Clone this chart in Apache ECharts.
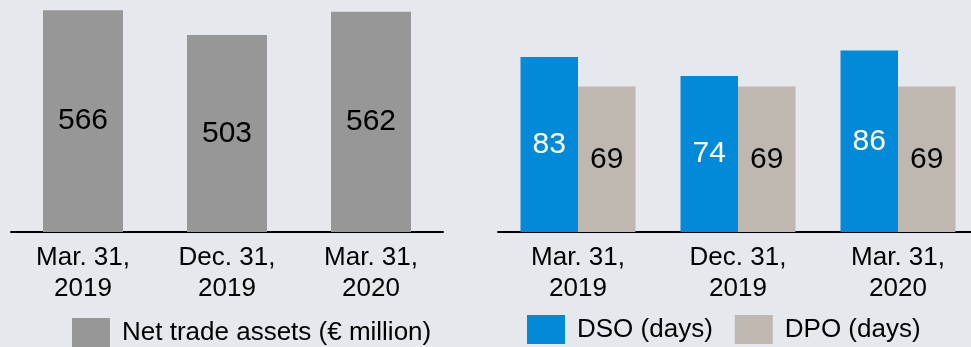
<!DOCTYPE html>
<html>
<head>
<meta charset="utf-8">
<script src="https://cdn.jsdelivr.net/npm/echarts@6/dist/echarts.min.js"></script>
<style>
  html, body { margin: 0; padding: 0; background: #e5e8ed; }
  #chart { width: 971px; height: 347px; }
</style>
</head>
<body>
<div id="chart"></div>
<script>
// Reporting dates shared by both panels
const categories = ['Mar. 31,\n2019', 'Dec. 31,\n2019', 'Mar. 31,\n2020'];

// Left panel: net trade assets in € million
const netTradeAssets = [566, 503, 562];

// Right panel: days sales outstanding / days payables outstanding
const dso = [83, 74, 86];
const dpo = [69, 69, 69];

const seriesNames = ['Net trade assets (€ million)', 'DSO (days)', 'DPO (days)'];

const FONT = '"Liberation Sans", Arial, Helvetica, sans-serif';
const colors = { nta: '#979797', dso: '#028ad9', dpo: '#bfb8b0' };

const axisCommon = {
  type: 'category',
  data: categories,
  axisLine: { show: true, lineStyle: { color: '#000', width: 2 } },
  axisTick: { show: false },
  axisLabel: {
    color: '#000', fontSize: 26, fontFamily: FONT, lineHeight: 31, margin: 10
  }
};

const valueLabel = (color) => ({
  show: true, position: 'inside', color: color,
  fontSize: 30, fontFamily: FONT
});

const legendText = { color: '#000', fontSize: 26, fontFamily: FONT, padding: [0, 0, 0, 7] };

const chart = echarts.init(document.getElementById('chart'), null, { renderer: 'canvas' });

chart.setOption({
  backgroundColor: '#e5e8ed',
  animation: false,
  textStyle: { fontFamily: FONT },
  grid: [
    { left: 11, width: 432, top: 0, bottom: 115, outerBoundsMode: 'none', containLabel: false },
    // the right panel's axis runs slightly past the canvas edge
    { left: 498, width: 480, top: 0, bottom: 115, outerBoundsMode: 'none', containLabel: false }
  ],
  xAxis: [
    Object.assign({ gridIndex: 0 }, axisCommon),
    Object.assign({ gridIndex: 1 }, axisCommon)
  ],
  yAxis: [
    { type: 'value', gridIndex: 0, min: 0, max: 592, show: false },
    { type: 'value', gridIndex: 1, min: 0, max: 110, show: false }
  ],
  legend: [
    {
      data: [seriesNames[0]],
      left: 72, top: 318, padding: 0,
      itemWidth: 38, itemHeight: 29, itemGap: 23,
      icon: 'rect',
      textStyle: legendText
    },
    {
      data: [seriesNames[1], seriesNames[2]],
      left: 527, top: 315, padding: 0,
      itemWidth: 38, itemHeight: 29, itemGap: 22,
      icon: 'rect',
      textStyle: legendText
    }
  ],
  series: [
    {
      name: seriesNames[0], type: 'bar',
      xAxisIndex: 0, yAxisIndex: 0,
      data: netTradeAssets, barWidth: 80,
      itemStyle: { color: colors.nta },
      label: valueLabel('#000')
    },
    {
      name: seriesNames[1], type: 'bar',
      xAxisIndex: 1, yAxisIndex: 1,
      data: dso, barWidth: 57.5, barGap: '0%',
      itemStyle: { color: colors.dso },
      label: valueLabel('#fff')
    },
    {
      name: seriesNames[2], type: 'bar',
      xAxisIndex: 1, yAxisIndex: 1,
      data: dpo, barWidth: 57.5, barGap: '0%',
      itemStyle: { color: colors.dpo },
      label: valueLabel('#000')
    }
  ]
});
</script>
</body>
</html>
